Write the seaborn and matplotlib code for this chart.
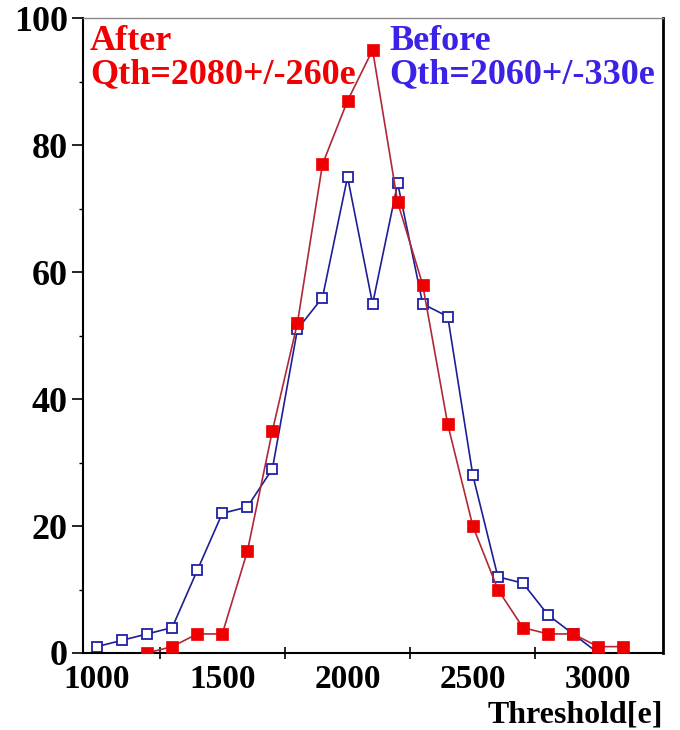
import numpy as np
import pandas as pd
import seaborn as sns
import matplotlib
matplotlib.use('Agg')
import matplotlib.pyplot as plt
from matplotlib.ticker import FixedLocator

# threshold scan, counts per 100e bin
before_x = [1000, 1100, 1200, 1300, 1400, 1500, 1600, 1700, 1800, 1900, 2000,
            2100, 2200, 2300, 2400, 2500, 2600, 2700, 2800, 2900, 3000]
before_y = [1, 2, 3, 4, 13, 22, 23, 29, 51, 56, 75,
            55, 74, 55, 53, 28, 12, 11, 6, 3, 0]
after_x = [1200, 1300, 1400, 1500, 1600, 1700, 1800, 1900, 2000, 2100,
           2200, 2300, 2400, 2500, 2600, 2700, 2800, 2900, 3000, 3100]
after_y = [0, 1, 3, 3, 16, 35, 52, 77, 87, 95,
           71, 58, 36, 20, 10, 4, 3, 3, 1, 1]
xticklabels = [1000, 1500, 2000, 2500, 3000]
xtickmarks = [1250, 1750, 2250, 2750]

sns.set_style('white')
plt.rcParams['font.family'] = ['Liberation Serif', 'DejaVu Serif']
plt.rcParams['font.weight'] = 'bold'
plt.rcParams['text.color'] = 'black'
plt.rcParams['axes.labelcolor'] = 'black'
plt.rcParams['xtick.color'] = 'black'
plt.rcParams['ytick.color'] = 'black'

fig = plt.figure(figsize=(6.8, 7.3), dpi=100)
ax = fig.add_axes([0.122, 0.1055, 0.853, 0.8695])

before = pd.DataFrame({'x': before_x, 'y': before_y})
after = pd.DataFrame({'x': after_x, 'y': after_y})

sns.lineplot(data=before, x='x', y='y', ax=ax, color='#1e1e96', lw=1.2,
             marker='s', markersize=7, markerfacecolor='white',
             markeredgecolor='#2020a8', markeredgewidth=1.3, zorder=2)
sns.lineplot(data=after, x='x', y='y', ax=ax, color='#b02838', lw=1.2,
             marker='s', markersize=8.5, markerfacecolor='#ee0000',
             markeredgecolor='#ee0000', markeredgewidth=0.5, zorder=3)

ax.set_xlim(944, 3259)
ax.set_ylim(0, 100)

# y axis: labelled majors, minor ticks between
ax.set_yticks([0, 20, 40, 60, 80, 100])
ax.yaxis.set_minor_locator(FixedLocator([10, 30, 50, 70, 90]))
ax.tick_params(axis='y', which='major', direction='out', length=8, width=1.2,
               left=True, labelsize=26, pad=3)
ax.tick_params(axis='y', which='minor', direction='out', length=3, width=1,
               left=True)

# x axis: tick marks and labels sit at different places in the original
ax.set_xticks(xtickmarks)
ax.set_xticklabels([])
ax.xaxis.set_minor_locator(FixedLocator(xticklabels))
ax.set_xticklabels([str(v) for v in xticklabels], minor=True)
ax.tick_params(axis='x', which='major', direction='inout', length=8, width=1.2,
               bottom=True)
ax.tick_params(axis='x', which='minor', length=0, labelsize=24, pad=8)

for lab in ax.get_xticklabels(minor=True) + ax.get_yticklabels():
    lab.set_fontweight('bold')

ax.set_xlabel('Threshold[e]', fontsize=23, fontweight='bold',
              ha='right', va='baseline')
ax.xaxis.set_label_coords(1.0, -0.109)
ax.set_ylabel('')

for side in ['left', 'bottom']:
    ax.spines[side].set_color('black')
    ax.spines[side].set_linewidth(1.5)
ax.spines['right'].set_color('black')
ax.spines['right'].set_linewidth(2)
ax.spines['top'].set_color('#888888')
ax.spines['top'].set_linewidth(1)

red = '#f00000'
blue = '#3a22e6'
ax.text(0.012, 0.99, 'After', transform=ax.transAxes, color=red,
        fontsize=26, fontweight='bold', va='top', ha='left')
ax.text(0.012, 0.937, 'Qth=2080+/-260e', transform=ax.transAxes, color=red,
        fontsize=26, fontweight='bold', va='top', ha='left')
ax.text(0.528, 0.99, 'Before', transform=ax.transAxes, color=blue,
        fontsize=26, fontweight='bold', va='top', ha='left')
ax.text(0.528, 0.937, 'Qth=2060+/-330e', transform=ax.transAxes, color=blue,
        fontsize=26, fontweight='bold', va='top', ha='left')

plt.savefig('out.png', dpi=100)
